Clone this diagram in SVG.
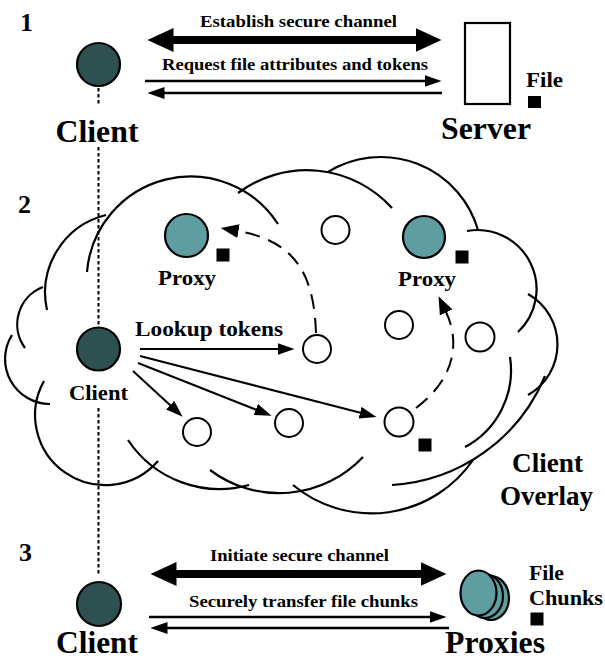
<svg xmlns="http://www.w3.org/2000/svg" width="605" height="661" viewBox="0 0 605 661">
<style>
text{font-family:"Liberation Serif","Times New Roman",serif;font-weight:bold;fill:#000}
.big{font-size:32px}
.num{font-size:26px}
.lbl{font-size:17px}
.mid{font-size:22px}
.dark{fill:#2f5050;stroke:#000;stroke-width:2.2}
.teal{fill:#5f9ea0;stroke:#000;stroke-width:2.2}
.peer{fill:#fff;stroke:#000;stroke-width:2}
.sq{fill:#000}
.cloud path{fill:none;stroke:#000;stroke-width:2.2}
.thick{stroke:#000;stroke-width:8;fill:none}
.thin{stroke:#000;stroke-width:2.5;fill:none}
.look{stroke:#000;stroke-width:2;fill:none}
.dash{stroke:#000;stroke-width:2;fill:none;stroke-dasharray:15 9}
.dot{stroke:#000;stroke-width:2;fill:none;stroke-dasharray:3.5 2.5}
</style>
<defs>
<marker id="hThick" markerUnits="userSpaceOnUse" viewBox="0 0 26 24" markerWidth="26" markerHeight="24" refX="0.5" refY="12" orient="auto-start-reverse"><path d="M0,0 L26,12 L0,24 z" fill="#000"/></marker>
<marker id="hThin" markerUnits="userSpaceOnUse" viewBox="0 0 17 12" markerWidth="17" markerHeight="12" refX="0.5" refY="6" orient="auto"><path d="M0,0 L17,6 L0,12 z" fill="#000"/></marker>
<marker id="hDash" markerUnits="userSpaceOnUse" viewBox="0 0 18 14" markerWidth="18" markerHeight="14" refX="0.5" refY="7" orient="auto"><path d="M0,0 L18,7 L0,14 z" fill="#000"/></marker>
</defs>

<g id="step-numbers">
<text class="num" x="20" y="31">1</text>
<text class="num" x="18" y="213">2</text>
<text class="num" x="19" y="561">3</text>
</g>

<g id="cloud" class="cloud">
<path d="M87,272 A104,104 0 0 1 278,224"/>
<path d="M106,215 A80,80 0 0 0 47,310"/>
<path d="M43,287 A40,40 0 0 0 25,348"/>
<path d="M12,335 A45,45 0 0 0 50,404"/>
<path d="M44,381 A70,70 0 0 0 158,461"/>
<path d="M128,440 A110,110 0 0 0 249,485"/>
<path d="M210,470 A115,115 0 0 0 363,457"/>
<path d="M293,485 A123,123 0 0 0 473,460"/>
<path d="M392,485 A177,177 0 0 0 545,376"/>
<path d="M528,294 A58,58 0 0 1 528,395"/>
<path d="M510,357 A87,87 0 0 1 465,447"/>
<path d="M467,231 A59,59 0 0 1 518,332"/>
<path d="M328,172 A101,101 0 0 1 478,230"/>
<path d="M238,193 A115,115 0 0 1 392,208"/>
</g>

<g id="connectors">
<line class="dot" x1="98.5" y1="88" x2="98.5" y2="105"/>
<line class="dot" x1="98.5" y1="147" x2="98.5" y2="327"/>
<line class="dot" x1="98.5" y1="408" x2="98.5" y2="576"/>
<line class="thick" x1="173" y1="40" x2="416" y2="40" marker-start="url(#hThick)" marker-end="url(#hThick)"/>
<line class="thin" x1="145" y1="81" x2="425" y2="81" marker-end="url(#hThin)"/>
<line class="thin" x1="442" y1="93" x2="164" y2="93" marker-end="url(#hThin)"/>
<line class="look" x1="140" y1="349" x2="278" y2="349" marker-end="url(#hThin)"/>
<line class="look" x1="133" y1="371" x2="170.5" y2="405.5" marker-end="url(#hThin)"/>
<line class="look" x1="138" y1="363" x2="256.2" y2="409.7" marker-end="url(#hThin)"/>
<line class="look" x1="140" y1="356" x2="360.5" y2="412.8" marker-end="url(#hThin)"/>
<path class="dash" d="M316,333 C314,280 300,242 238,231" marker-end="url(#hDash)"/>
<path class="dash" d="M416,408 C447,385 464,350 446,312" marker-end="url(#hDash)"/>
<line class="thick" x1="176" y1="574" x2="421" y2="574" marker-start="url(#hThick)" marker-end="url(#hThick)"/>
<line class="thin" x1="149" y1="617" x2="430" y2="617" marker-end="url(#hThin)"/>
<line class="thin" x1="449" y1="628" x2="167" y2="628" marker-end="url(#hThin)"/>
</g>

<g id="label-establish"><text class="lbl" x="298.5" y="27" text-anchor="middle" textLength="197" lengthAdjust="spacingAndGlyphs">Establish secure channel</text></g>
<g id="label-request"><text class="lbl" x="295" y="70" text-anchor="middle" textLength="266" lengthAdjust="spacingAndGlyphs">Request file attributes and tokens</text></g>

<g id="client-1">
<circle class="dark" cx="98.5" cy="64.5" r="21.5"/>
<text class="big" x="97" y="142" text-anchor="middle" textLength="83" lengthAdjust="spacingAndGlyphs">Client</text>
</g>
<g id="server">
<rect x="465" y="23" width="45" height="81" fill="#fff" stroke="#000" stroke-width="2.2"/>
<text class="big" x="486" y="139" text-anchor="middle" textLength="90" lengthAdjust="spacingAndGlyphs">Server</text>
</g>
<g id="file-1">
<text class="mid" x="526" y="87" textLength="37" lengthAdjust="spacingAndGlyphs">File</text>
<rect class="sq" x="528" y="96" width="13" height="12"/>
</g>

<g id="proxy-1">
<circle class="teal" cx="186.5" cy="235.5" r="21.5"/>
<rect class="sq" x="216.5" y="248.5" width="13" height="13"/>
<text class="mid" x="187" y="285" text-anchor="middle" textLength="58" lengthAdjust="spacingAndGlyphs">Proxy</text>
</g>
<g id="proxy-2">
<circle class="teal" cx="424" cy="237" r="21"/>
<rect class="sq" x="455.5" y="250.5" width="13" height="13"/>
<text class="mid" x="427" y="286" text-anchor="middle" textLength="58" lengthAdjust="spacingAndGlyphs">Proxy</text>
</g>
<g id="peer-top"><circle class="peer" cx="335.5" cy="230" r="14"/></g>
<g id="peer-mid"><circle class="peer" cx="399" cy="325" r="14"/></g>
<g id="peer-right"><circle class="peer" cx="480" cy="337" r="14.5"/></g>
<g id="peer-n1"><circle class="peer" cx="317" cy="349" r="14"/></g>
<g id="peer-n2"><circle class="peer" cx="197" cy="432" r="14"/></g>
<g id="peer-n3"><circle class="peer" cx="289" cy="423" r="14"/></g>
<g id="peer-n4">
<circle class="peer" cx="399" cy="422" r="14.5"/>
<rect class="sq" x="418.5" y="438.5" width="13" height="13"/>
</g>
<g id="client-2">
<circle class="dark" cx="98.5" cy="349" r="21.5"/>
<text class="mid" x="98.5" y="400" text-anchor="middle" textLength="59" lengthAdjust="spacingAndGlyphs">Client</text>
</g>
<g id="label-lookup"><text x="135" y="336" font-size="21" textLength="148" lengthAdjust="spacingAndGlyphs">Lookup tokens</text></g>
<g id="label-overlay">
<text x="547.5" y="472" font-size="28" text-anchor="middle" textLength="71" lengthAdjust="spacingAndGlyphs">Client</text>
<text x="546.5" y="505" font-size="28" text-anchor="middle" textLength="93" lengthAdjust="spacingAndGlyphs">Overlay</text>
</g>

<g id="label-initiate"><text class="lbl" x="299.5" y="561" text-anchor="middle" textLength="179" lengthAdjust="spacingAndGlyphs">Initiate secure channel</text></g>
<g id="label-transfer"><text class="lbl" x="303.5" y="607" text-anchor="middle" textLength="229" lengthAdjust="spacingAndGlyphs">Securely transfer file chunks</text></g>

<g id="client-3">
<circle class="dark" cx="99" cy="604" r="22"/>
<text class="big" x="97" y="653" text-anchor="middle" textLength="82" lengthAdjust="spacingAndGlyphs">Client</text>
</g>
<g id="proxies">
<ellipse class="teal" cx="491" cy="598" rx="18" ry="22"/>
<ellipse class="teal" cx="485" cy="596" rx="18" ry="22"/>
<ellipse class="teal" cx="478.5" cy="593" rx="18" ry="22.5"/>
<text class="big" x="495" y="653" text-anchor="middle" textLength="100" lengthAdjust="spacingAndGlyphs">Proxies</text>
</g>
<g id="file-chunks">
<text class="mid" x="529" y="580" textLength="35" lengthAdjust="spacingAndGlyphs">File</text>
<text class="mid" x="529" y="605" textLength="74" lengthAdjust="spacingAndGlyphs">Chunks</text>
<rect class="sq" x="530.5" y="612.5" width="13" height="13"/>
</g>
</svg>
